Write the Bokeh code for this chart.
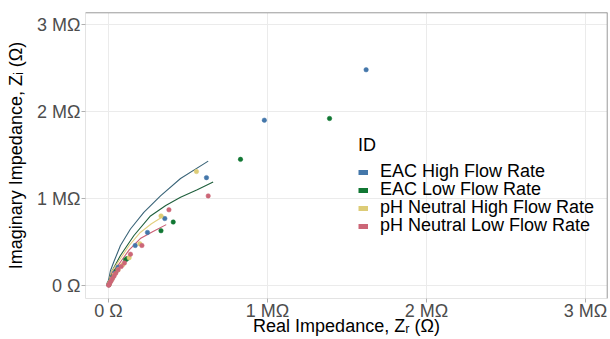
from bokeh.plotting import figure
from bokeh.models import (Range1d, FixedTicker, CustomJSTickFormatter, Legend, LegendItem, Span)
from bokeh.embed import file_html
from bokeh.resources import INLINE

# ---- data (MΩ) ----
series = ["EAC High Flow Rate", "EAC Low Flow Rate", "pH Neutral High Flow Rate", "pH Neutral Low Flow Rate"]
point_colors = ["#4477AA", "#117733", "#DDCC77", "#CC6677"]
line_colors = ["#3a6478", "#1f5f3c", "#e2cf7e", "#c95d73"]

eac_high_zr = [1.62, 0.98, 0.616, 0.354, 0.245, 0.168, 0.06, 0.04, 0.025, 0.012, 0.005, 0.002]
eac_high_zi = [2.48, 1.90, 1.24, 0.77, 0.61, 0.46, 0.21, 0.15, 0.10, 0.06, 0.03, 0.01]
eac_low_zr = [1.39, 0.83, 0.407, 0.33, 0.117, 0.107, 0.05, 0.03, 0.015, 0.006, 0.002]
eac_low_zi = [1.92, 1.45, 0.73, 0.63, 0.31, 0.295, 0.17, 0.11, 0.06, 0.03, 0.01]
phn_high_zr = [0.553, 0.33, 0.197, 0.13, 0.09, 0.06, 0.035, 0.02, 0.008, 0.003]
phn_high_zi = [1.31, 0.80, 0.48, 0.32, 0.24, 0.18, 0.12, 0.07, 0.035, 0.012]
phn_low_zr = [0.627, 0.38, 0.21, 0.138, 0.10, 0.08, 0.06, 0.045, 0.035, 0.025, 0.015, 0.008, 0.003, 0.001]
phn_low_zi = [1.03, 0.87, 0.46, 0.36, 0.26, 0.22, 0.18, 0.14, 0.11, 0.08, 0.05, 0.03, 0.01, 0.003]

# fitted curves
fit_a_zr = [0.002, 0.012, 0.033, 0.075, 0.138, 0.222, 0.327, 0.453, 0.627]
fit_a_zi = [0.077, 0.17, 0.27, 0.46, 0.65, 0.84, 1.03, 1.23, 1.43]
fit_b_zr = [0.002, 0.023, 0.075, 0.16, 0.264, 0.36, 0.453, 0.558, 0.658]
fit_b_zi = [0.06, 0.17, 0.345, 0.575, 0.80, 0.92, 1.015, 1.10, 1.19]
fit_c_zr = [0.002, 0.02, 0.075, 0.13, 0.2, 0.27, 0.348]
fit_c_zi = [0.06, 0.16, 0.31, 0.46, 0.61, 0.71, 0.80]
fit_d_zr = [0.002, 0.02, 0.075, 0.13, 0.2, 0.28, 0.363]
fit_d_zi = [0.05, 0.14, 0.27, 0.41, 0.54, 0.62, 0.70]

x_ticks = [0, 1, 2, 3]
y_ticks = [0, 1, 2, 3]

FONT = "Liberation Sans"

xr = Range1d(-0.1447, 3.138)
yr = Range1d(-0.149, 3.138)
p = figure(width=610, height=339, output_backend="svg", toolbar_location=None,
           x_range=xr, y_range=yr,
           min_border_left=85, min_border_right=3, min_border_top=12, min_border_bottom=41)
p.background_fill_color = "white"
p.border_fill_color = "white"
p.outline_line_color = "#e3e3e3"
p.outline_line_width = 1

fmt = CustomJSTickFormatter(code="return tick == 0 ? '0 Ω' : tick + ' MΩ';")
for ax, ticks in ((p.xaxis[0], x_ticks), (p.yaxis[0], y_ticks)):
    ax.ticker = FixedTicker(ticks=ticks)
    ax.formatter = fmt
    ax.axis_line_color = None
    ax.major_tick_line_color = "#b0b0b0"
    ax.major_tick_out = 4
    ax.major_tick_in = 0
    ax.minor_tick_line_color = None
    ax.major_label_text_font = FONT
    ax.major_label_text_font_size = "18px"
    ax.major_label_text_color = "#4d4d4d"
    ax.axis_label_text_font = FONT
    ax.axis_label_text_font_size = "18px"
    ax.axis_label_text_font_style = "normal"
    ax.axis_label_text_color = "#000000"

p.xaxis.axis_label = "Real Impedance, Zᵣ (Ω)"
p.yaxis.axis_label = "Imaginary Impedance, Zᵢ (Ω)"
p.xaxis.major_label_standoff = -2
p.yaxis.major_label_standoff = 1
p.xaxis.axis_label_standoff = -8
p.yaxis.axis_label_standoff = 8

p.xgrid.ticker = FixedTicker(ticks=x_ticks)
p.ygrid.ticker = FixedTicker(ticks=y_ticks)
p.grid.grid_line_color = "#ebebeb"
p.grid.grid_line_width = 1

# darker top/right panel border
p.add_layout(Span(location=yr.end, dimension="width", line_color="#8a8a8a", line_width=1.5))
p.add_layout(Span(location=xr.end, dimension="height", line_color="#8a8a8a", line_width=1.5))

fits = [(fit_a_zr, fit_a_zi), (fit_b_zr, fit_b_zi), (fit_c_zr, fit_c_zi), (fit_d_zr, fit_d_zi)]
for (fx, fy), c in zip(fits, line_colors):
    p.line(fx, fy, line_color=c, line_width=1.1)

pts = [(eac_high_zr, eac_high_zi), (eac_low_zr, eac_low_zi),
       (phn_high_zr, phn_high_zi), (phn_low_zr, phn_low_zi)]
for (px, py), c in zip(pts, point_colors):
    p.scatter(px, py, size=4.5, fill_color=c, line_color=c, line_width=0.5)

# legend: one single-row legend per entry so rows sit 18px apart, like the reference
nan = float("nan")
row_offsets = [116, 98, 80, 62]
for i, (name, c) in enumerate(zip(series, point_colors)):
    r = p.line(x=[nan], y=[nan], line_color=c, line_width=5, line_cap="butt")
    kw = {}
    if i == 0:
        kw = dict(title="ID", title_text_font=FONT, title_text_font_size="18px",
                  title_text_font_style="normal", title_text_color="#000000", title_standoff=5)
    lg = Legend(items=[LegendItem(label=name, renderers=[r])], location=(273, row_offsets[i]),
                label_text_font=FONT, label_text_font_size="18px", label_text_color="#000000",
                label_height=18, glyph_height=18, glyph_width=10, label_standoff=12,
                spacing=0, padding=0, margin=0,
                border_line_color=None, background_fill_alpha=0, **kw)
    p.add_layout(lg, "center")

open("out.html", "w").write(file_html(p, INLINE))
